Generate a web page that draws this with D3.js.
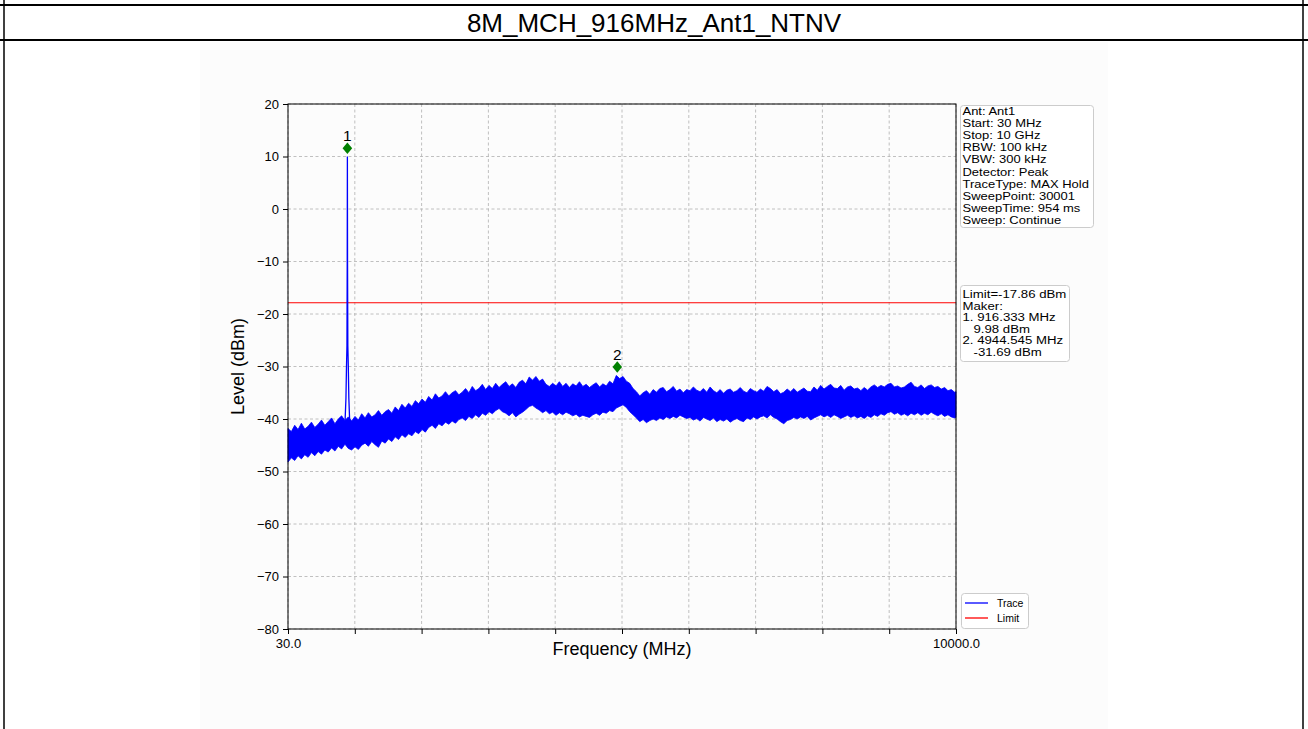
<!DOCTYPE html>
<html><head><meta charset="utf-8">
<script src="https://cdn.jsdelivr.net/npm/d3@7"></script>
<style>
html,body{margin:0;padding:0;background:#fff;}
svg{display:block;font-family:"Liberation Sans",Arial,Helvetica,sans-serif;}
text{white-space:pre;}
</style></head><body>
<svg id="c" width="1308" height="729"></svg>
<script>
// ---------------- data ----------------
const title = "8M_MCH_916MHz_Ant1_NTNV";
const xDomain = [30, 10000];
const yDomain = [-80, 20];
const xTicks = [30, 1027, 2024, 3021, 4018, 5015, 6012, 7009, 8006, 9003, 10000];
const xTickLabels = ["30.0", "", "", "", "", "", "", "", "", "", "10000.0"];
const yTicks = [-80, -70, -60, -50, -40, -30, -20, -10, 0, 10, 20];
const limitLevel = -17.86;

// sweep frequencies (MHz), every 50 MHz
const traceFreq = [
  30,80,130,180,230,280,330,380,430,480, 530,580,630,680,730,780,830,880,930,980,
  1030,1080,1130,1180,1230,1280,1330,1380,1430,1480, 1530,1580,1630,1680,1730,1780,1830,1880,1930,1980,
  2030,2080,2130,2180,2230,2280,2330,2380,2430,2480, 2530,2580,2630,2680,2730,2780,2830,2880,2930,2980,
  3030,3080,3130,3180,3230,3280,3330,3380,3430,3480, 3530,3580,3630,3680,3730,3780,3830,3880,3930,3980,
  4030,4080,4130,4180,4230,4280,4330,4380,4430,4480, 4530,4580,4630,4680,4730,4780,4830,4880,4930,4980,
  5030,5080,5130,5180,5230,5280,5330,5380,5430,5480, 5530,5580,5630,5680,5730,5780,5830,5880,5930,5980,
  6030,6080,6130,6180,6230,6280,6330,6380,6430,6480, 6530,6580,6630,6680,6730,6780,6830,6880,6930,6980,
  7030,7080,7130,7180,7230,7280,7330,7380,7430,7480, 7530,7580,7630,7680,7730,7780,7830,7880,7930,7980,
  8030,8080,8130,8180,8230,8280,8330,8380,8430,8480, 8530,8580,8630,8680,8730,8780,8830,8880,8930,8980,
  9030,9080,9130,9180,9230,9280,9330,9380,9430,9480, 9530,9580,9630,9680,9730,9780,9830,9880,9930,9980,
  10000];
// upper edge of the max-hold noise band (dBm)
const traceUpper = [
  -41.8,-42.4,-41.2,-42.0,-40.8,-41.9,-41.4,-40.6,-41.6,-41.0, -40.2,-41.2,-40.5,-39.8,-40.9,-40.0,-39.4,-40.3,-39.6,-40.4,
  -39.5,-40.2,-39.0,-39.8,-38.8,-39.6,-39.2,-38.4,-39.3,-38.6, -38.2,-38.9,-37.7,-38.4,-37.2,-37.9,-37.0,-37.6,-36.5,-37.1,
  -36.2,-36.8,-35.7,-36.4,-35.2,-36.0,-35.6,-34.8,-35.6,-35.0, -34.6,-35.4,-34.9,-34.2,-35.0,-33.8,-34.6,-34.2,-33.4,-34.4,
  -33.6,-34.2,-33.2,-34.0,-33.4,-32.9,-33.8,-33.3,-34.0,-33.0, -32.6,-33.3,-32.0,-32.6,-31.9,-32.8,-32.4,-33.4,-33.8,-33.2,
  -33.7,-32.9,-33.8,-33.2,-34.0,-33.3,-33.7,-32.9,-33.8,-33.4, -34.0,-33.5,-33.1,-33.9,-33.3,-33.7,-32.8,-33.3,-31.7,-32.3,
  -31.9,-32.8,-33.2,-34.2,-34.8,-35.6,-35.0,-34.6,-35.3,-34.4, -34.9,-34.2,-34.0,-34.8,-34.4,-33.8,-34.7,-34.3,-35.0,-34.4,
  -34.6,-33.9,-34.5,-34.8,-34.2,-34.9,-33.9,-34.6,-35.0,-34.4, -35.1,-34.5,-34.3,-34.9,-34.6,-34.0,-34.7,-35.0,-34.2,-34.6,
  -34.9,-34.3,-34.7,-33.8,-34.2,-34.8,-34.4,-35.2,-34.9,-34.3, -34.8,-34.2,-34.9,-34.5,-34.1,-34.7,-34.8,-33.9,-34.5,-33.6,
  -34.3,-33.8,-33.4,-34.1,-34.2,-33.6,-34.5,-33.9,-33.7,-34.3, -34.1,-34.6,-34.0,-34.5,-33.9,-33.5,-34.0,-33.6,-33.9,-33.4,
  -33.2,-33.9,-33.7,-34.1,-33.9,-33.4,-33.0,-33.8,-34.0,-33.5, -34.2,-33.7,-33.5,-34.0,-33.8,-34.3,-34.0,-34.6,-34.4,-34.9,
  -34.8];
// lower edge of the noise band (dBm)
const traceLower = [
  -48.2,-47.4,-47.9,-47.0,-47.6,-46.8,-47.3,-46.4,-47.0,-46.2, -46.7,-45.9,-46.3,-45.5,-46.1,-45.2,-45.7,-44.8,-45.6,-45.9,
  -45.3,-45.8,-45.0,-44.6,-45.2,-44.3,-44.9,-45.4,-44.2,-44.6, -43.8,-44.3,-43.4,-43.9,-43.0,-43.5,-42.8,-43.2,-42.4,-42.8,
  -42.0,-42.5,-41.6,-41.2,-41.8,-40.9,-41.3,-40.6,-41.0,-40.4, -40.8,-40.1,-39.8,-40.3,-39.5,-39.9,-39.2,-39.7,-38.9,-39.3,
  -38.6,-39.0,-38.4,-38.0,-38.6,-38.9,-39.4,-38.8,-39.6,-39.1, -38.7,-38.2,-37.6,-37.4,-37.9,-38.3,-38.8,-38.4,-39.0,-38.7,
  -39.3,-38.8,-39.2,-38.7,-39.0,-39.4,-39.1,-39.6,-39.3,-39.5, -39.7,-39.2,-38.9,-39.3,-38.7,-38.9,-38.4,-38.6,-37.9,-37.6,
  -37.3,-37.8,-38.6,-39.2,-39.8,-40.5,-40.1,-40.7,-40.3,-40.0, -40.3,-39.8,-40.1,-39.6,-39.9,-39.5,-39.8,-39.3,-39.6,-39.9,
  -39.7,-40.2,-39.9,-40.4,-39.7,-40.0,-40.3,-39.8,-40.5,-40.1, -40.4,-40.0,-40.6,-40.2,-39.9,-40.3,-40.5,-39.8,-40.1,-39.6,
  -40.0,-39.6,-39.4,-39.8,-39.2,-39.7,-40.0,-40.5,-40.9,-40.3, -40.1,-39.7,-40.0,-39.6,-39.9,-39.5,-40.2,-39.8,-39.5,-39.2,
  -39.6,-39.3,-39.7,-39.2,-39.5,-39.9,-39.6,-39.3,-39.7,-39.4, -39.8,-39.5,-39.9,-39.4,-39.7,-39.2,-39.5,-39.0,-39.3,-38.8,
  -38.6,-39.1,-38.8,-39.3,-39.0,-39.4,-38.9,-39.2,-38.8,-39.3, -38.9,-39.2,-38.7,-39.1,-39.4,-39.0,-39.5,-39.2,-39.6,-39.8,
  -39.7];

const carrierFreq  = [880, 895, 903, 910, 914, 916.333, 918.5, 923, 930, 938, 952];
const carrierLevel = [-41, -36, -30, -26, -10, 9.98, -10, -26, -30, -36, -41];

const markerName  = ["1", "2"];
const markerFreq  = [916.333, 4944.545];
const markerLevel = [9.98, -31.69];
const markerOffset = 1.6;

const infoLines = ["Ant: Ant1", "Start: 30 MHz", "Stop: 10 GHz", "RBW: 100 kHz", "VBW: 300 kHz",
  "Detector: Peak", "TraceType: MAX Hold", "SweepPoint: 30001", "SweepTime: 954 ms", "Sweep: Continue"];
const limitInfoLines = ["Limit=-17.86 dBm", "Maker:", "1. 916.333 MHz", "   9.98 dBm", "2. 4944.545 MHz", "   -31.69 dBm"];
const legendNames  = ["Trace", "Limit"];
const legendColors = ["#0000ff", "#ff0000"];

// ---------------- drawing ----------------
const svg = d3.select("#c");
const W = 1308, H = 729;
const P = {l: 288, r: 956, t: 104, b: 629};

svg.append("rect").attr("width", W).attr("height", H).attr("fill", "#fff");
svg.append("rect").attr("x", 200).attr("y", 42).attr("width", 908).attr("height", H - 42).attr("fill", "#fcfcfc");

const frame = svg.append("g").attr("stroke", "#000");
frame.append("line").attr("x1", 0).attr("x2", W).attr("y1", 5).attr("y2", 5).attr("stroke-width", 2);
frame.append("line").attr("x1", 0).attr("x2", W).attr("y1", 40).attr("y2", 40).attr("stroke-width", 2);
frame.append("line").attr("x1", 4).attr("x2", 4).attr("y1", 0).attr("y2", H).attr("stroke-width", 1.5);
frame.append("line").attr("x1", 1303).attr("x2", 1303).attr("y1", 0).attr("y2", H).attr("stroke-width", 1.5);

svg.append("text").attr("x", 654).attr("y", 31.5).attr("text-anchor", "middle")
  .attr("font-size", 26).attr("fill", "#000").text(title);

const x = d3.scaleLinear().domain(xDomain).range([P.l, P.r]);
const y = d3.scaleLinear().domain(yDomain).range([P.b, P.t]);

// grid
const grid = svg.append("g").attr("stroke", "#b0b0b0").attr("stroke-width", 0.8).attr("stroke-dasharray", "3,2.5");
grid.selectAll(".gx").data(xTicks).join("line")
  .attr("x1", d => x(d)).attr("x2", d => x(d)).attr("y1", P.t).attr("y2", P.b);
grid.selectAll(".gy").data(yTicks).join("line")
  .attr("y1", d => y(d)).attr("y2", d => y(d)).attr("x1", P.l).attr("x2", P.r);

// limit
svg.append("line").attr("x1", P.l).attr("x2", P.r).attr("y1", y(limitLevel)).attr("y2", y(limitLevel))
  .attr("stroke", "#ff0000").attr("stroke-width", 1);

// trace band
const band = traceFreq.map((f, i) => ({f, hi: traceUpper[i], lo: traceLower[i]}));
svg.append("path").datum(band)
  .attr("d", d3.area().x(d => x(d.f)).y0(d => y(d.lo)).y1(d => y(d.hi)))
  .attr("fill", "#0000ff").attr("stroke", "#0000ff").attr("stroke-width", 0.8).attr("stroke-linejoin", "miter");
const car = carrierFreq.map((f, i) => ({f, v: carrierLevel[i]}));
svg.append("path").datum(car)
  .attr("d", d3.line().x(d => x(d.f)).y(d => y(d.v)))
  .attr("fill", "none").attr("stroke", "#0000ff").attr("stroke-width", 1.3);

// spines
svg.append("rect").attr("x", P.l).attr("y", P.t).attr("width", P.r - P.l).attr("height", P.b - P.t)
  .attr("fill", "none").attr("stroke", "#000").attr("stroke-width", 1);

// axes
const fmtY = d => d < 0 ? "\u2212" + (-d) : String(d);
const ya = svg.append("g").attr("transform", `translate(${P.l},0)`)
  .call(d3.axisLeft(y).tickValues(yTicks).tickFormat(fmtY).tickSize(5).tickPadding(4));
const xa = svg.append("g").attr("transform", `translate(0,${P.b})`)
  .call(d3.axisBottom(x).tickValues(xTicks).tickFormat((d, i) => xTickLabels[i]).tickSize(5).tickPadding(5));
[ya, xa].forEach(g => {
  g.select(".domain").remove();
  g.selectAll("text").attr("font-size", 13).attr("fill", "#000").attr("font-family", null);
  g.selectAll("line").attr("stroke", "#000");
});

svg.append("text").attr("x", 622).attr("y", 655).attr("text-anchor", "middle").attr("font-size", 18).text("Frequency (MHz)");
svg.append("text").attr("transform", `translate(244,${(P.t + P.b) / 2}) rotate(-90)`).attr("text-anchor", "middle")
  .attr("font-size", 18).text("Level (dBm)");

// markers
const mk = svg.append("g");
markerName.forEach((n, i) => {
  const cx = x(markerFreq[i]), cy = y(markerLevel[i] + markerOffset);
  mk.append("path").attr("d", `M${cx},${cy - 5.7}L${cx + 4.8},${cy}L${cx},${cy + 5.7}L${cx - 4.8},${cy}Z`)
    .attr("fill", "#008000");
  mk.append("text").attr("x", cx).attr("y", cy - 7).attr("text-anchor", "middle").attr("font-size", 15.5).text(n);
});

// info boxes
function box(x0, y0, w, h) {
  svg.append("rect").attr("x", x0).attr("y", y0).attr("width", w).attr("height", h).attr("rx", 3)
    .attr("fill", "#fff").attr("stroke", "#cccccc").attr("stroke-width", 1);
}
function boxText(t, tx, ty, fs, sx) {
  svg.append("text").attr("transform", `translate(${tx},${ty}) scale(${sx},1)`)
    .attr("font-size", fs).text(t);
}
box(960.5, 105.5, 133, 122);
infoLines.forEach((t, i) => boxText(t, 962.5, 115 + i * 12.1, 11.6, 1.12));
box(960.5, 285.5, 109, 76);
limitInfoLines.forEach((t, i) => boxText(t, 962.5, 298 + i * 11.5, 11.3, 1.17));

// legend
box(961.5, 593.5, 67, 35);
legendNames.forEach((n, i) => {
  svg.append("line").attr("x1", 965).attr("x2", 988).attr("y1", 603 + i * 15).attr("y2", 603 + i * 15)
    .attr("stroke", legendColors[i]).attr("stroke-width", 1.3);
  svg.append("text").attr("x", 997).attr("y", 607 + i * 15).attr("font-size", 10.5).text(n);
});
</script>
</body></html>
